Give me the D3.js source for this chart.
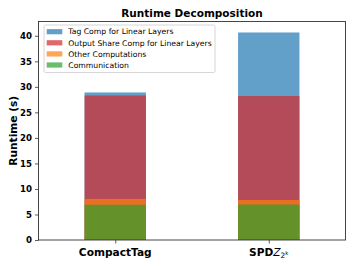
<!DOCTYPE html>
<html>
<head>
<meta charset="utf-8">
<script src="https://cdn.jsdelivr.net/npm/d3@7"></script>
<style>
  body { margin: 0; background: #fff; }
  text { font-family: "DejaVu Sans", sans-serif; }
</style>
</head>
<body>
<div id="chart"></div>
<script>
const width = 354;
const height = 266;

// Data (segment heights, seconds)
const systems = ["CompactTag", "SPDZ"];
const communication = [6.9, 6.95];
const otherComp = [1.15, 0.9];
const outputShare = [20.25, 20.35];
const tagComp = [0.6, 12.45];
const yTicks = [0, 5, 10, 15, 20, 25, 30, 35, 40];

const seriesNames = [
  "Tag Comp for Linear Layers",
  "Output Share Comp for Linear Layers",
  "Other Computations",
  "Communication"
];
const seriesColors = ["#1f77b4", "#d62728", "#ff7f0e", "#2ca02c"];

const margin = { top: 21.5, right: 8.5, bottom: 26, left: 38.5 };

const svg = d3.select("#chart")
  .append("svg")
  .attr("width", width)
  .attr("height", height);

const x = d3.scaleLinear()
  .domain([-0.5, 1.5])
  .range([margin.left, width - margin.right]);

const y = d3.scaleLinear()
  .domain([0, 42.8])
  .range([height - margin.bottom, margin.top]);

// cumulative tops; the bars are all drawn from 0 and overlap (alpha 0.7)
const tops = systems.map((s, i) => {
  const c1 = communication[i];
  const c2 = c1 + otherComp[i];
  const c3 = c2 + outputShare[i];
  const c4 = c3 + tagComp[i];
  return [c4, c3, c2, c1];
});

const barWidth = 0.4;

seriesNames.forEach((name, k) => {
  svg.append("g")
    .selectAll("rect")
    .data(systems)
    .enter().append("rect")
    .attr("x", (d, i) => x(i - barWidth / 2))
    .attr("width", x(barWidth) - x(0))
    .attr("y", (d, i) => y(tops[i][k]))
    .attr("height", (d, i) => y(0) - y(tops[i][k]))
    .attr("fill", seriesColors[k])
    .attr("fill-opacity", 0.7);
});

// Axes
const yAxis = d3.axisLeft(y).tickValues(yTicks).tickSize(3.5).tickPadding(3);
const gy = svg.append("g")
  .attr("transform", `translate(${margin.left},0)`)
  .call(yAxis);
gy.select(".domain").remove();
gy.selectAll("text")
  .attr("font-size", "8.6px")
  .attr("font-weight", "bold")
  .attr("fill", "#000");
gy.selectAll("line").attr("stroke", "#333").attr("stroke-width", 0.8);

const xAxis = d3.axisBottom(x).tickValues([0, 1]).tickSize(3.5).tickFormat("");
const gx = svg.append("g")
  .attr("transform", `translate(0,${height - margin.bottom})`)
  .call(xAxis);
gx.select(".domain").remove();
gx.selectAll("line").attr("stroke", "#333").attr("stroke-width", 0.8);

// frame
svg.append("rect")
  .attr("x", margin.left)
  .attr("y", margin.top)
  .attr("width", width - margin.left - margin.right)
  .attr("height", height - margin.top - margin.bottom)
  .attr("fill", "none")
  .attr("stroke", "#333")
  .attr("stroke-width", 0.9);

// x tick labels
const xLabelY = height - margin.bottom + 15.5;
svg.append("text")
  .attr("x", x(0))
  .attr("y", xLabelY)
  .attr("text-anchor", "middle")
  .attr("font-size", "10.6px")
  .attr("font-weight", "bold")
  .text("CompactTag");

const spdz = svg.append("text")
  .attr("x", x(1))
  .attr("y", xLabelY)
  .attr("text-anchor", "middle")
  .attr("font-size", "10.6px");
spdz.append("tspan").attr("font-weight", "bold").text("SPD");
spdz.append("tspan").attr("font-style", "italic").text("Z");
spdz.append("tspan").attr("font-size", "7.4px").attr("dy", 2).text("2");
spdz.append("tspan").attr("font-size", "5.4px").attr("dy", -3).text("k");

// y label
svg.append("text")
  .attr("transform", `translate(16.5,${(margin.top + height - margin.bottom) / 2}) rotate(-90)`)
  .attr("text-anchor", "middle")
  .attr("font-size", "10.6px")
  .attr("font-weight", "bold")
  .text("Runtime (s)");

// title
svg.append("text")
  .attr("x", (margin.left + width - margin.right) / 2)
  .attr("y", 16.5)
  .attr("text-anchor", "middle")
  .attr("font-size", "10.5px")
  .attr("font-weight", "bold")
  .text("Runtime Decomposition");

// legend
const legend = svg.append("g").attr("transform", "translate(44,25)");
legend.append("rect")
  .attr("width", 171)
  .attr("height", 47.5)
  .attr("rx", 1.5)
  .attr("fill", "#fff")
  .attr("fill-opacity", 0.8)
  .attr("stroke", "#ccc")
  .attr("stroke-width", 0.8);

const items = legend.selectAll("g.item")
  .data(seriesNames)
  .enter().append("g")
  .attr("class", "item")
  .attr("transform", (d, i) => `translate(0,${6.7 + i * 11.1})`);

items.append("rect")
  .attr("x", 2.7)
  .attr("y", -2.6)
  .attr("width", 15.6)
  .attr("height", 5.2)
  .attr("fill", (d, i) => seriesColors[i])
  .attr("fill-opacity", 0.7);

items.append("text")
  .attr("x", 24.3)
  .attr("y", 2.7)
  .attr("font-size", "7.7px")
  .attr("fill", "#000")
  .text(d => d);
</script>
</body>
</html>
